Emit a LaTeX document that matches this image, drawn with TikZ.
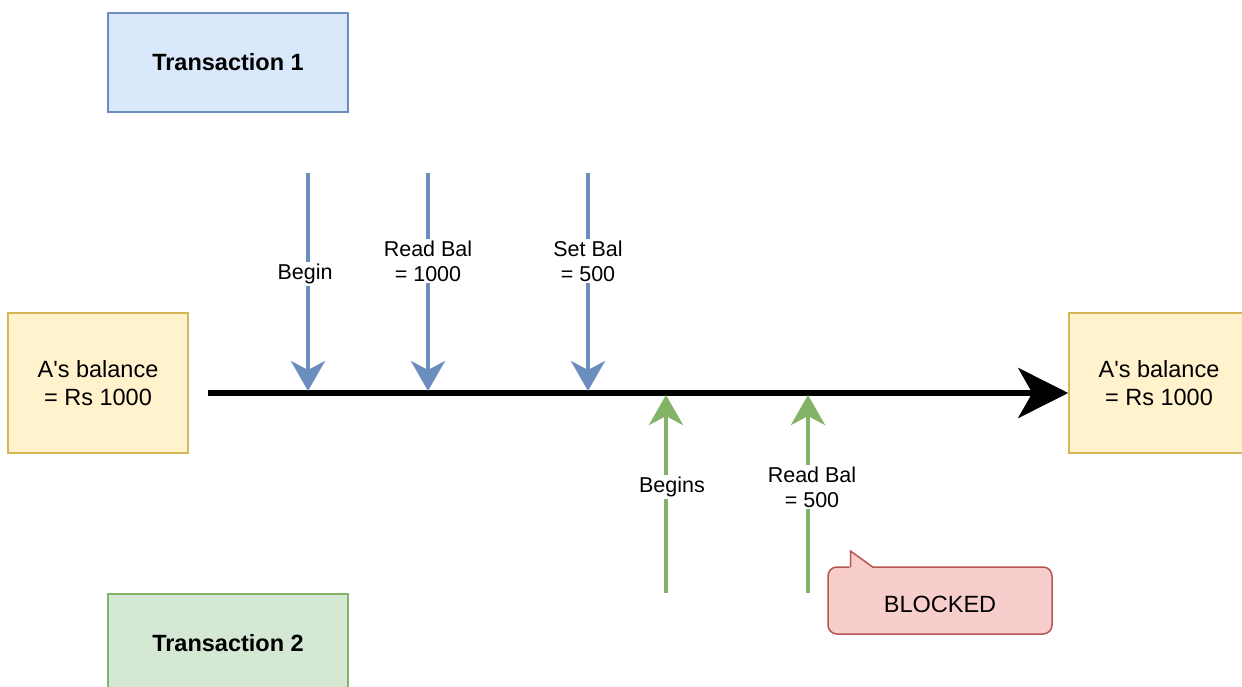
\documentclass[tikz,border=0pt]{standalone}
\usepackage{fontspec}
\setmainfont{Liberation Sans}
\usetikzlibrary{arrows.meta}
\definecolor{tblueFill}{HTML}{DAE8FC}
\definecolor{tblueLine}{HTML}{6C8EBF}
\definecolor{tgreenFill}{HTML}{D5E8D4}
\definecolor{tgreenLine}{HTML}{82B366}
\definecolor{balFill}{HTML}{FFF2CC}
\definecolor{balLine}{HTML}{D6B656}
\definecolor{blkFill}{HTML}{F8CECC}
\definecolor{blkLine}{HTML}{B85450}
\newcommand{\sq}{\textquotesingle}
\begin{document}
\begin{tikzpicture}[x=1pt,y=-1pt,
  boxtext/.style={font=\fontsize{23.5}{28.2}\selectfont, align=center},
  txbox/.style={boxtext, font=\fontsize{23.5}{28.2}\selectfont\bfseries, draw, line width=1.5pt,
    minimum width=240pt, minimum height=99pt, inner sep=0pt},
  balbox/.style={boxtext, draw=balLine, fill=balFill, line width=1.5pt,
    minimum width=180pt, minimum height=140pt, inner sep=0pt},
  evlabel/.style={font=\fontsize{21.5}{25}\selectfont, align=center, fill=white, inner sep=1.5pt},
  t1arrow/.style={draw=tblueLine, line width=4.5pt, -{Stealth[length=30pt,width=34pt,inset=9pt]}},
  t2arrow/.style={draw=tgreenLine, line width=4.5pt, -{Stealth[length=30pt,width=34pt,inset=9pt]}},
  timeline/.style={draw=black, line width=6pt, -{Stealth[length=50pt,width=50pt,inset=14pt]}}
]
\useasboundingbox (0,0) rectangle (1242,687);
\clip (0,0) rectangle (1242,687);

% transaction boxes
\node[txbox, draw=tblueLine, fill=tblueFill] (tx1) at (228,62.5) {Transaction 1};
\node[txbox, draw=tgreenLine, fill=tgreenFill] (tx2) at (228,643.5) {Transaction 2};

% balance before and after
\node[balbox] (bal1) at (98,383) {A\sq s balance\\= Rs 1000};
\node[balbox] (bal2) at (1159,383) {A\sq s balance\\= Rs 1000};

% time line
\coordinate (tstart) at (208,393);
\draw[timeline] (tstart) -- (tstart -| bal2.west);

% events of transaction 1
\coordinate (a1) at (308,173); \coordinate (a1e) at (308,391);
\coordinate (a2) at (428,173); \coordinate (a2e) at (428,391);
\coordinate (a3) at (588,173); \coordinate (a3e) at (588,391);
\draw[t1arrow] (a1) -- (a1e);
\draw[t1arrow] (a2) -- (a2e);
\draw[t1arrow] (a3) -- (a3e);
\node[evlabel] (l1) at (305,274) {Begin};
\node[evlabel] (l2) at (428,261) {Read Bal\\= 1000};
\node[evlabel] (l3) at (588,261) {Set Bal\\= 500};

% events of transaction 2
\coordinate (g1) at (666,593); \coordinate (g1e) at (666,395);
\coordinate (g2) at (808,593); \coordinate (g2e) at (808,395);
\draw[t2arrow] (g1) -- (g1e);
\draw[t2arrow] (g2) -- (g2e);
\node[evlabel] (l4) at (672,487) {Begins};
\node[evlabel] (l5) at (812,487) {Read Bal\\= 500};

% blocked callout
\node[boxtext, draw=blkLine, fill=blkFill, line width=1.5pt, rounded corners=9pt,
  minimum width=224pt, minimum height=67pt, inner sep=0pt] (blk) at (940,600.5)
  {\raisebox{-3.5pt}[\height][\depth]{BLOCKED}};
\fill[blkFill] (849.5,568.5) -- (850.5,551) -- (874,568.5) -- cycle;
\draw[blkLine, line width=1.5pt, line join=miter] (850.5,567.2) -- (850.5,551) -- (873,567.2);
\end{tikzpicture}
\end{document}
